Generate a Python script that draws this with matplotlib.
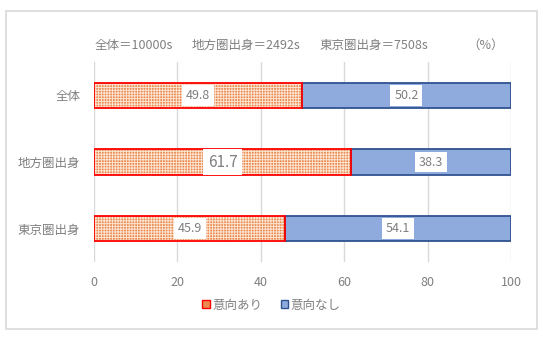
import matplotlib
matplotlib.use("Agg")
import matplotlib.pyplot as plt
from matplotlib.patches import Patch, Rectangle

plt.rcParams['font.family'] = ['Noto Sans CJK JP', 'DejaVu Sans']
plt.rcParams['hatch.linewidth'] = 0.7

categories = ["全体", "地方圏出身", "東京圏出身"]
yes_vals = [49.8, 61.7, 45.9]
no_vals = [50.2, 38.3, 54.1]
series_names = ["意向あり", "意向なし"]
header_parts = ["全体＝10000s", "地方圏出身＝2492s", "東京圏出身＝7508s", "（%）"]
xticks = [0, 20, 40, 60, 80, 100]

W, H = 543, 349
fig = plt.figure(figsize=(W / 100, H / 100), dpi=100)
gray = '#808080'
orange = '#EC8B50'
hatch_col = '#FBE3D2'
blue = '#8FAADC'
blue_edge = '#2F528F'

# outer border
fig.patches.append(Rectangle((6 / W, 1 - 329 / H), (537 - 6) / W, (329 - 11) / H,
                             transform=fig.transFigure, fill=False,
                             edgecolor='#D9D9D9', linewidth=1.2))

ax = fig.add_axes([94 / W, 1 - 262 / H, (511 - 94) / W, 200 / H])
ypos = list(range(len(categories)))
bh = 0.38

ax.barh(ypos, yes_vals, height=bh, color=orange, edgecolor=hatch_col, hatch='++++++',
        linewidth=0, zorder=3)
ax.barh(ypos, yes_vals, height=bh, fill=False, edgecolor='#FF0000', linewidth=1.3, zorder=4)
ax.barh(ypos, no_vals, left=yes_vals, height=bh, color=blue, edgecolor=blue_edge,
        linewidth=1.3, zorder=3)

for i in ypos:
    fs = 11 if i == 1 else 9
    ax.text(yes_vals[i] / 2, i, f"{yes_vals[i]:.1f}", ha='center', va='center',
            fontsize=fs, color='#7F7F7F', zorder=5,
            bbox=dict(boxstyle='square,pad=0.3', facecolor='white', edgecolor='none'))
    ax.text(yes_vals[i] + no_vals[i] / 2, i, f"{no_vals[i]:.1f}", ha='center', va='center',
            fontsize=9, color='#7F7F7F', zorder=5,
            bbox=dict(boxstyle='square,pad=0.3', facecolor='white', edgecolor='none'))

ax.set_xlim(0, 100)
ax.set_ylim(len(categories) - 0.5, -0.5)
ax.set_xticks(xticks)
ax.set_yticks(ypos)
ax.set_yticklabels(categories)
ax.grid(axis='x', color='#D9D9D9', linewidth=1, zorder=0)
for s in ['top', 'right', 'bottom', 'left']:
    ax.spines[s].set_visible(False)
ax.tick_params(axis='x', length=0, pad=10, labelsize=9, labelcolor=gray)
ax.tick_params(axis='y', length=0, pad=10, labelsize=9, labelcolor=gray)

# header
hx = [95, 192, 319, 467]
for t, x in zip(header_parts, hx):
    fig.text(x / W, 1 - 45 / H, t, ha='left', va='center', fontsize=9, color=gray)

handles = [Patch(facecolor=orange, edgecolor='#FF0000', linewidth=1),
           Patch(facecolor=blue, edgecolor=blue_edge, linewidth=1)]
fig.legend(handles, series_names, loc='center', bbox_to_anchor=(0.5, 1 - 305 / H),
           ncol=2, frameon=False, fontsize=9, labelcolor=gray,
           handlelength=0.6, handleheight=0.6, handletextpad=0.2, columnspacing=1.5)

fig.savefig("out.png", dpi=100)
